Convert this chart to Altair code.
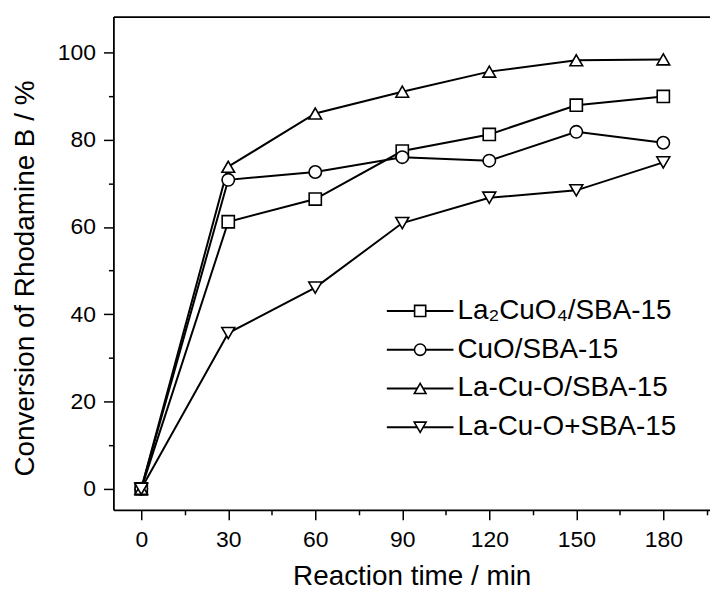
import altair as alt
import pandas as pd

# ---- data ----
times = [0, 30, 60, 90, 120, 150, 180]
series_names = ["La₂CuO₄/SBA-15", "CuO/SBA-15", "La-Cu-O/SBA-15", "La-Cu-O+SBA-15"]
la2cuo4_sba = [0, 61.2, 66.4, 77.4, 81.2, 87.9, 89.9]
cuo_sba = [0, 70.8, 72.6, 76.0, 75.2, 81.8, 79.3]
lacuo_sba = [0, 73.8, 86.0, 91.0, 95.6, 98.2, 98.4]
lacuo_plus_sba = [0, 35.7, 46.1, 60.9, 66.7, 68.4, 74.8]

x_ticks = [0, 15, 30, 45, 60, 75, 90, 105, 120, 135, 150, 165, 180, 195]
y_ticks = [0, 10, 20, 30, 40, 50, 60, 70, 80, 90, 100]

# ---- styling ----
FONT = "Liberation Sans, Arial, sans-serif"
plot_shapes = ["square", "circle", "triangle-up", "triangle-down"]
plot_sizes = [150, 169, 256, 256]
legend_sizes = [125, 144, 200, 200]

rows = []
for name, vals in zip(series_names,
                      [la2cuo4_sba, cuo_sba, lacuo_sba, lacuo_plus_sba]):
    for t, v in zip(times, vals):
        rows.append({"series": name, "time": t, "conv": v})
df = pd.DataFrame(rows)
legend_df = pd.DataFrame({"series": series_names})

W, H = 600, 496
x_scale = alt.Scale(domain=[-9.6, 196.1], nice=False, zero=False)
y_scale = alt.Scale(domain=[-4.8, 108.2], nice=False, zero=False)
shape_scale = alt.Scale(domain=series_names, range=plot_shapes)

x_axis_bottom = alt.Axis(
    values=x_ticks,
    labelExpr="datum.value % 30 === 0 ? datum.label : ''",
    tickSize={"condition": {"test": "datum.value % 30 === 0", "value": 10}, "value": 5},
    title="Reaction time / min",
    labelFlush=False, labelOverlap=False, grid=False,
    labelPadding=9, titlePadding=11,
)
x_axis_top = alt.Axis(orient="top", ticks=False, labels=False, title=None,
                      grid=False, domain=True)
y_axis = alt.Axis(
    values=y_ticks,
    labelExpr="datum.value % 20 === 0 ? datum.label : ''",
    tickSize={"condition": {"test": "datum.value % 20 === 0", "value": 10}, "value": 5},
    title="Conversion of Rhodamine B / %",
    labelFlush=False, labelOverlap=False, grid=False,
    labelPadding=8, titlePadding=18, titleY=263,
)

base = alt.Chart(df)

lines = base.mark_line(color="black", strokeWidth=2).encode(
    x=alt.X("time:Q", scale=x_scale, axis=x_axis_bottom),
    y=alt.Y("conv:Q", scale=y_scale, axis=y_axis),
    detail="series:N",
)

points = base.mark_point(filled=True, fill="white", stroke="black",
                         strokeWidth=1.6, opacity=1).encode(
    x=alt.X("time:Q", scale=x_scale, axis=x_axis_top),
    y=alt.Y("conv:Q", scale=y_scale, axis=None),
    shape=alt.Shape("series:N", scale=shape_scale, legend=None),
    size=alt.Size("series:N", scale=alt.Scale(domain=series_names, range=plot_sizes), legend=None),
)

# ---- legend drawn inside the plot (line + marker + label per series) ----
leg_y = alt.Y("series:N", axis=None,
              scale=alt.Scale(type="point", domain=series_names, range=[296, 413], padding=0))
leg = alt.Chart(legend_df)

leg_lines = leg.mark_rule(color="black", strokeWidth=2).encode(
    x=alt.value(275), x2=alt.value(342), y=leg_y,
)
leg_marks = leg.mark_point(filled=True, fill="white", stroke="black",
                           strokeWidth=1.6, opacity=1).encode(
    x=alt.value(308.5), y=leg_y,
    shape=alt.Shape("series:N", scale=shape_scale, legend=None),
    size=alt.Size("series:N", scale=alt.Scale(domain=series_names, range=legend_sizes), legend=None),
)
leg_text = leg.mark_text(align="left", baseline="middle", font=FONT,
                         fontSize=28, color="black").encode(
    x=alt.value(346), y=leg_y, text="series:N",
)

chart = (
    alt.layer(lines, points, leg_lines, leg_marks, leg_text)
    .resolve_scale(y="independent", size="independent")
    .resolve_axis(x="independent", y="independent")
    .properties(width=W, height=H, padding={"left": 3, "top": 7, "right": 0, "bottom": 0})
    .configure_view(strokeWidth=0)
    .configure_axis(
        labelFont=FONT, titleFont=FONT, labelFontSize=23, titleFontSize=28,
        titleFontWeight="normal", labelColor="black", titleColor="black",
        domainColor="black", tickColor="black", domainWidth=1.8, tickWidth=1.5,
    )
)

chart.save("out.html", embed_options={"renderer": "svg", "actions": False})
